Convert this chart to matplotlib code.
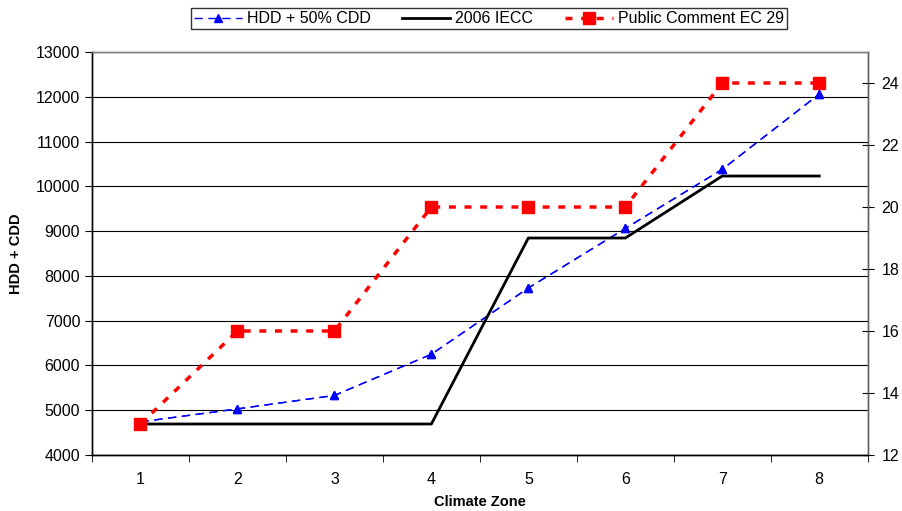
import matplotlib
matplotlib.use('Agg')
import matplotlib.pyplot as plt
from matplotlib.ticker import MultipleLocator

plt.rcParams['font.family'] = ['Liberation Sans', 'DejaVu Sans']

zones = [1, 2, 3, 4, 5, 6, 7, 8]
hdd_cdd = [4740, 5030, 5330, 6250, 7730, 9060, 10380, 12060]
iecc_2006 = [13, 13, 13, 13, 19, 19, 21, 21]
public_comment = [13, 16, 16, 20, 20, 20, 24, 24]

fig = plt.figure(figsize=(9.02, 5.11), dpi=100)
ax = fig.add_axes([0.102, 0.1096, 0.860, 0.7886])
ax2 = ax.twinx()

# left axis: HDD + CDD
l1, = ax.plot(zones, hdd_cdd, color='blue', linestyle=(0, (6, 4)), linewidth=1,
              marker='^', markersize=6, label='HDD + 50% CDD')
ax.set_ylim(4000, 13000)
ax.set_xlim(0.5, 8.5)
ax.yaxis.set_major_locator(MultipleLocator(1000))
ax.grid(axis='y', color='black', linewidth=0.8)
ax.set_axisbelow(True)
ax.set_xticks(zones)
ax.set_xticks([z + 0.5 for z in range(0, 9)], minor=True)
ax.tick_params(axis='x', which='major', length=0, pad=12, labelsize=11.5)
ax.tick_params(axis='x', which='minor', length=5, direction='out')
ax.tick_params(axis='y', length=5, direction='out', labelsize=11.5)
ax.set_xlabel('Climate Zone', fontweight='bold', fontsize=10.5, labelpad=6)
ax.set_ylabel('HDD + CDD', fontweight='bold', fontsize=10.5, labelpad=9)

# right axis: R-values
l2, = ax2.plot(zones, iecc_2006, color='black', linewidth=2, label='2006 IECC')
l3, = ax2.plot(zones, public_comment, color='red', linestyle=(0, (2, 2.5)), linewidth=2.5,
               marker='s', markersize=8, label='Public Comment EC 29')
ax2.set_ylim(12, 25)
ax2.set_yticks([12, 14, 16, 18, 20, 22, 24])
ax2.tick_params(axis='y', length=8, direction='inout', pad=6, labelsize=11.5)

for a in (ax, ax2):
    for s in a.spines.values():
        s.set_linewidth(1)
    a.spines['top'].set_color('#808080')
    a.spines['right'].set_color('#606060')

ax.set_zorder(ax2.get_zorder() - 1)
ax2.patch.set_visible(False)
ax.plot(zones, hdd_cdd, color='blue', linestyle=(0, (6, 4)), linewidth=1,
        marker='^', markersize=6, zorder=3)

leg = fig.legend(handles=[l1, l2, l3], loc='upper center', bbox_to_anchor=(0.542, 1.0),
                 ncol=3, fontsize=11.5, frameon=True, fancybox=False, edgecolor='black',
                 handlelength=3.0, columnspacing=2.0, borderpad=0.2, handletextpad=0.3)
leg.get_frame().set_linewidth(1)

fig.savefig('out.png', dpi=100)
